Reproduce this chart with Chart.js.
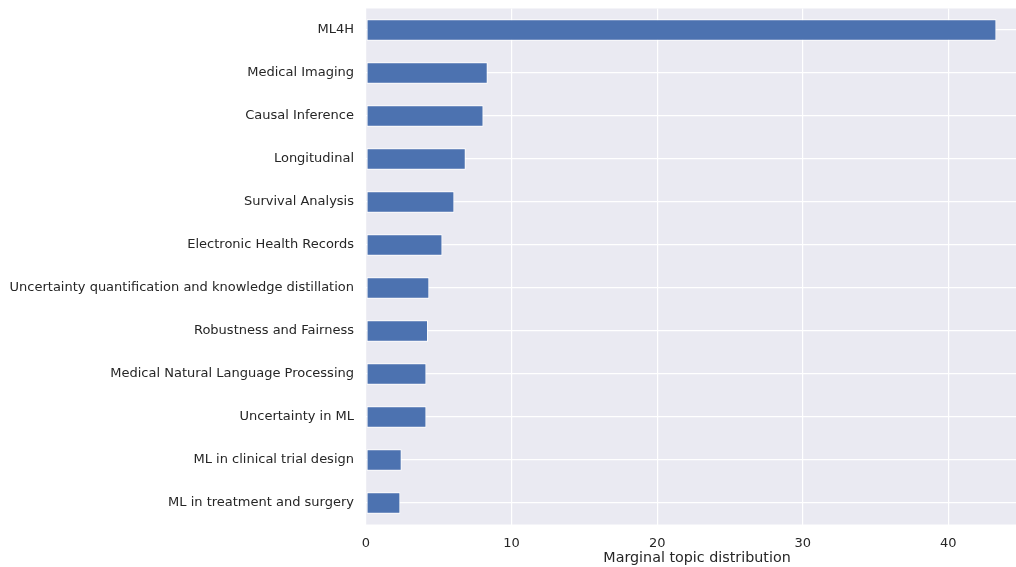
<!DOCTYPE html>
<html>
<head>
<meta charset="utf-8">
<script src="https://cdn.jsdelivr.net/npm/chart.js@4"></script>
<style>
  html, body { margin: 0; background: #fff; overflow: hidden; }
  #wrap { width: 1028px; height: 567px; }
</style>
</head>
<body>
<div id="wrap"><canvas id="topicChart" width="1028" height="567"></canvas></div>
<script>
const topics = [
    'ML4H',
    'Medical Imaging',
    'Causal Inference',
    'Longitudinal',
    'Survival Analysis',
    'Electronic Health Records',
    'Uncertainty quantification and knowledge distillation',
    'Robustness and Fairness',
    'Medical Natural Language Processing',
    'Uncertainty in ML',
    'ML in clinical trial design',
    'ML in treatment and surgery'
];
const marginal = [43.3, 8.36, 8.07, 6.85, 6.07, 5.25, 4.35, 4.26, 4.15, 4.15, 2.45, 2.36];
const xTicks = [0, 10, 20, 30, 40];

// grey panel behind the bars
const panelBg = {
    id: 'panelBg',
    beforeDraw(chart) {
        const { ctx, chartArea: a } = chart;
        ctx.save();
        ctx.fillStyle = '#EAEAF2';
        ctx.fillRect(a.left, a.top, a.right - a.left, a.bottom - a.top);
        ctx.restore();
    }
};

const font = { family: 'DejaVu Sans', size: 13 };

new Chart(document.getElementById('topicChart'), {
    type: 'bar',
    data: {
        labels: topics,
        datasets: [{
            data: marginal,
            backgroundColor: '#4C72B0',
            borderColor: '#ffffff',
            borderWidth: 1,
            borderSkipped: false,
            barPercentage: 0.5,
            categoryPercentage: 1.0
        }]
    },
    options: {
        indexAxis: 'y',
        responsive: false,
        animation: false,
        layout: { padding: { top: 8.5, right: 0, left: 0, bottom: 0 } },
        plugins: {
            legend: { display: false },
            tooltip: { enabled: false }
        },
        scales: {
            x: {
                min: 0,
                max: 45.47,
                afterBuildTicks(scale) {
                    scale.ticks = xTicks.map(v => ({ value: v }));
                },
                afterFit(scale) {
                    scale.height = 42.5;
                    scale.paddingLeft = 0;
                    scale.paddingRight = 0;
                },
                grid: { color: '#ffffff', lineWidth: 1.2, drawTicks: false },
                border: { display: false },
                ticks: { color: '#262626', font, padding: 11 },
                title: {
                    display: true,
                    text: 'Marginal topic distribution',
                    color: '#262626',
                    font: { family: 'DejaVu Sans', size: 14.3 },
                    padding: { top: 6, bottom: 0 }
                }
            },
            y: {
                afterFit(scale) {
                    scale.width = 366;
                    scale.paddingTop = 0;
                    scale.paddingBottom = 0;
                },
                grid: { color: '#ffffff', lineWidth: 1.2, drawTicks: false, offset: false },
                border: { display: false },
                ticks: { color: '#262626', font, padding: 12 }
            }
        }
    },
    plugins: [panelBg]
});
</script>
</body>
</html>
